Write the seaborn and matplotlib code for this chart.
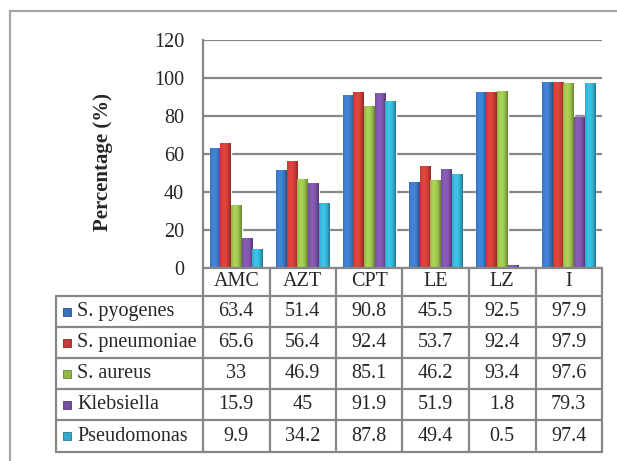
import numpy as np
import pandas as pd
import matplotlib
matplotlib.use("Agg")
import matplotlib.pyplot as plt
import matplotlib.colors as mcolors
from matplotlib.lines import Line2D
from matplotlib.patches import Rectangle
import seaborn as sns

# ---- data ----
antibiotics = ["AMC", "AZT", "CPT", "LE", "LZ", "I"]
organisms = ["S. pyogenes", "S. pneumoniae", "S. aureus", "Klebsiella", "Pseudomonas"]
s_pyogenes = [63.4, 51.4, 90.8, 45.5, 92.5, 97.9]
s_pneumoniae = [65.6, 56.4, 92.4, 53.7, 92.4, 97.9]
s_aureus = [33, 46.9, 85.1, 46.2, 93.4, 97.6]
klebsiella = [15.9, 45, 91.9, 51.9, 1.8, 79.3]
pseudomonas = [9.9, 34.2, 87.8, 49.4, 0.5, 97.4]
y_ticks = [0, 20, 40, 60, 80, 100, 120]
y_label = "Percentage (%)"

series = [s_pyogenes, s_pneumoniae, s_aureus, klebsiella, pseudomonas]
palette = ["#3a72bc", "#c43a35", "#93b64a", "#7650a0", "#33a9c9"]

rows = []
for org, vals in zip(organisms, series):
    for ab, v in zip(antibiotics, vals):
        rows.append({"Antibiotic": ab, "Organism": org, "Value": v})
df = pd.DataFrame(rows)

# ---- figure geometry (pixels) ----
W, H = 617, 461
DPI = 100
FS = 14.5
sns.set_theme(style="white")
plt.rcParams["font.family"] = ["Liberation Serif", "DejaVu Serif"]

fig = plt.figure(figsize=(W / DPI, H / DPI), dpi=DPI)
fig.patch.set_facecolor("white")

PL, PR, PT, PB = 203, 602, 40, 268  # plot area
ax = fig.add_axes([PL / W, 1 - PB / H, (PR - PL) / W, (PB - PT) / H])

sns.barplot(data=df, x="Antibiotic", y="Value", hue="Organism",
            hue_order=organisms, order=antibiotics, palette=palette,
            width=0.8, saturation=1, legend=False, ax=ax, errorbar=None)

ax.set_ylim(0, 120)
ax.set_xlim(-0.5, len(antibiotics) - 0.5)
ax.set_yticks(y_ticks)
ax.set_yticklabels([str(t) for t in y_ticks], fontsize=FS)
ax.tick_params(axis="y", length=0, pad=13.5)
ax.set_xticks([])
ax.set_xlabel("")
ax.set_ylabel(y_label, fontsize=15, fontweight="bold")
ax.yaxis.set_label_coords((113 - PL) / (PR - PL), (PB - 162) / (PB - PT))
ax.yaxis.grid(True, color="#878787", linewidth=1.6)
ax.set_axisbelow(True)
for s in ["top", "right", "bottom"]:
    ax.spines[s].set_visible(False)
ax.spines["left"].set_color("#878787")
ax.spines["left"].set_linewidth(1.6)

# cylinder-like shading on each bar
def shade(c):
    base = np.array(mcolors.to_rgb(c))
    xs = np.linspace(0, 1, 32)
    prof = 1 - 2.4 * (xs - 0.38) ** 2
    grad = np.clip(base[None, :] * (0.66 + 0.5 * prof[:, None]), 0, 1)
    return grad[None, :, :]

for patch in list(ax.patches):
    x0, y0 = patch.get_x(), patch.get_y()
    w, h = patch.get_width(), patch.get_height()
    if h <= 0:
        continue
    col = mcolors.to_hex(patch.get_facecolor())
    im = ax.imshow(shade(col), extent=[x0, x0 + w, y0, y0 + h],
                   aspect="auto", interpolation="bilinear", zorder=patch.get_zorder() + 0.1)
    im.set_clip_path(patch)
ax.set_xlim(-0.5, len(antibiotics) - 0.5)
ax.set_ylim(0, 120)

# ---- data table beneath the axis ----
def fx(px):
    return px / W

def fy(py):
    return 1 - py / H

line_kw = dict(color="#878787", linewidth=1.6, transform=fig.transFigure)
col_edges = np.linspace(PL, PR, len(antibiotics) + 1)
TL = 56
row_edges = [268, 296, 327, 358, 389, 420, 452]

# horizontal lines
fig.add_artist(Line2D([fx(PL), fx(PR)], [fy(row_edges[0])] * 2, **line_kw))
for r in row_edges[1:]:
    fig.add_artist(Line2D([fx(TL), fx(PR)], [fy(r)] * 2, **line_kw))
# vertical lines
for c in col_edges:
    fig.add_artist(Line2D([fx(c)] * 2, [fy(row_edges[0]), fy(row_edges[-1])], **line_kw))
fig.add_artist(Line2D([fx(TL)] * 2, [fy(row_edges[1]), fy(row_edges[-1])], **line_kw))

centers = (col_edges[:-1] + col_edges[1:]) / 2
hy = (row_edges[0] + row_edges[1]) / 2
for cx, ab in zip(centers, antibiotics):
    fig.text(fx(cx), fy(hy), ab, ha="center", va="center", fontsize=FS)

def fmt(v):
    return f"{v:g}"

for i, (org, vals, col) in enumerate(zip(organisms, series, palette)):
    ry = (row_edges[i + 1] + row_edges[i + 2]) / 2
    fig.add_artist(Rectangle((fx(63), fy(ry + 4)), 8 / W, 8 / H,
                             transform=fig.transFigure, facecolor=col,
                             edgecolor=mcolors.to_hex(np.array(mcolors.to_rgb(col)) * 0.7),
                             linewidth=0.6))
    fig.text(fx(77), fy(ry), org, ha="left", va="center", fontsize=FS)
    for cx, v in zip(centers, vals):
        fig.text(fx(cx), fy(ry), fmt(v), ha="center", va="center", fontsize=FS)

# outer chart frame
frame_kw = dict(color="#a6a6a6", linewidth=1.6, transform=fig.transFigure)
fig.add_artist(Line2D([fx(10), 1.0], [fy(11)] * 2, **frame_kw))
fig.add_artist(Line2D([fx(10)] * 2, [fy(11), 0.0], **frame_kw))

fig.savefig("out.png", dpi=DPI, facecolor="white")
